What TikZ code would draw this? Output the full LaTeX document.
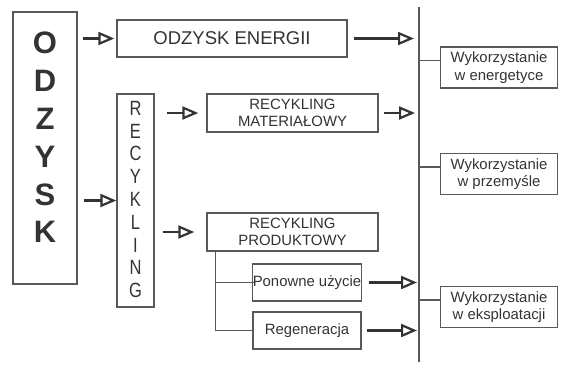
\documentclass[tikz,border=0pt]{standalone}
\usepackage{fontspec}
\setmainfont{Liberation Sans}
\usepackage{graphicx}
\usetikzlibrary{arrows.meta,calc}
\definecolor{linegray}{gray}{0.35}
\definecolor{textgray}{gray}{0.2}

\begin{document}
\begin{tikzpicture}[x=1pt,y=-1pt,
  box/.style={draw=linegray, line width=1.4pt, text=textgray, inner sep=0pt, align=center, font=\fontsize{14.9}{17.5}\selectfont},
  arr/.style={draw=textgray, line width=2.2pt, -{Triangle[open,length=16pt,width=13pt]}, shorten <=5pt, shorten >=2pt},
  link/.style={draw=linegray, line width=1.4pt}]
\useasboundingbox (0,0) rectangle (561,365);
% left column
\node[box, minimum width=64pt, minimum height=272pt] (odzysk) at (45,148) {};
\node[text=textgray, font=\fontsize{31}{37.8}\selectfont\bfseries, align=center] (odzysklbl) at (45,137.5) {O\\D\\Z\\Y\\S\\K};
\node[box, minimum width=37pt, minimum height=213pt] (recykl) at (135.5,200.5) {};
\node[text=textgray, font=\fontsize{16.5}{18.24}\selectfont, inner sep=0pt] (recykllbl) at (135.5,202) {\scalebox{1}[1.25]{\begin{tabular}{@{}c@{}}R\\E\\C\\Y\\K\\L\\I\\N\\G\end{tabular}}};
% middle
\node[box, minimum width=230pt, minimum height=37pt, font=\fontsize{18.5}{22}\selectfont] (energia) at (232,38.5) {ODZYSK ENERGII};
\node[box, minimum width=171pt, minimum height=38pt] (material) at (292.5,113) {RECYKLING\\MATERIAŁOWY};
\node[box, minimum width=171pt, minimum height=38pt] (produkt) at (292.5,232) {RECYKLING\\PRODUKTOWY};
\node[box, minimum width=108pt, minimum height=37pt] (ponowne) at (307,282.5) {Ponowne użycie};
\node[box, minimum width=108pt, minimum height=37pt] (regen) at (307,330.5) {Regeneracja};
% right
\node[box, minimum width=117pt, minimum height=41pt] (wenerg) at (499,67.5) {Wykorzystanie\\w energetyce};
\node[box, minimum width=117pt, minimum height=41pt] (wprzem) at (499,174) {Wykorzystanie\\w przemyśle};
\node[box, minimum width=117pt, minimum height=41pt] (weksp) at (499,307) {Wykorzystanie\\w eksploatacji};
\coordinate (ostop) at (419,7);
\coordinate (osbot) at (419,362);
\draw[link] (ostop) -- (osbot);
% arrows
\draw[arr] (odzysk.east |- energia.west) -- (energia.west);
\draw[arr, shorten >=0pt, shorten <=6pt] (odzysk.east |- recykl.west) -- (recykl.west);
\draw[arr, shorten <=12pt, shorten >=8pt] (recykl.east |- material.west) -- (material.west);
\draw[arr, shorten <=8pt, shorten >=12pt] (recykl.east |- produkt.west) -- (produkt.west);
\draw[arr, shorten <=6pt, shorten >=5pt] (energia.east) -- (energia.east -| ostop);
\draw[arr, shorten >=4pt] (material.east) -- (material.east -| ostop);
\draw[arr, shorten <=7pt] (ponowne.east) -- (ponowne.east -| ostop);
\draw[arr] (regen.east) -- (regen.east -| ostop);
% links
\draw[link] ([yshift=7pt]wenerg.west) -- ([yshift=7pt]wenerg.west -| ostop);
\draw[link] ([yshift=7pt]wprzem.west) -- ([yshift=7pt]wprzem.west -| ostop);
\draw[link] ([yshift=7pt]weksp.west) -- ([yshift=7pt]weksp.west -| ostop);
\coordinate (treetop) at ([xshift=9pt]produkt.south west);
\draw[link] (treetop) |- (regen.west);
\draw[link] (treetop |- ponowne.west) -- ([xshift=2pt]ponowne.west);
\end{tikzpicture}
\end{document}
